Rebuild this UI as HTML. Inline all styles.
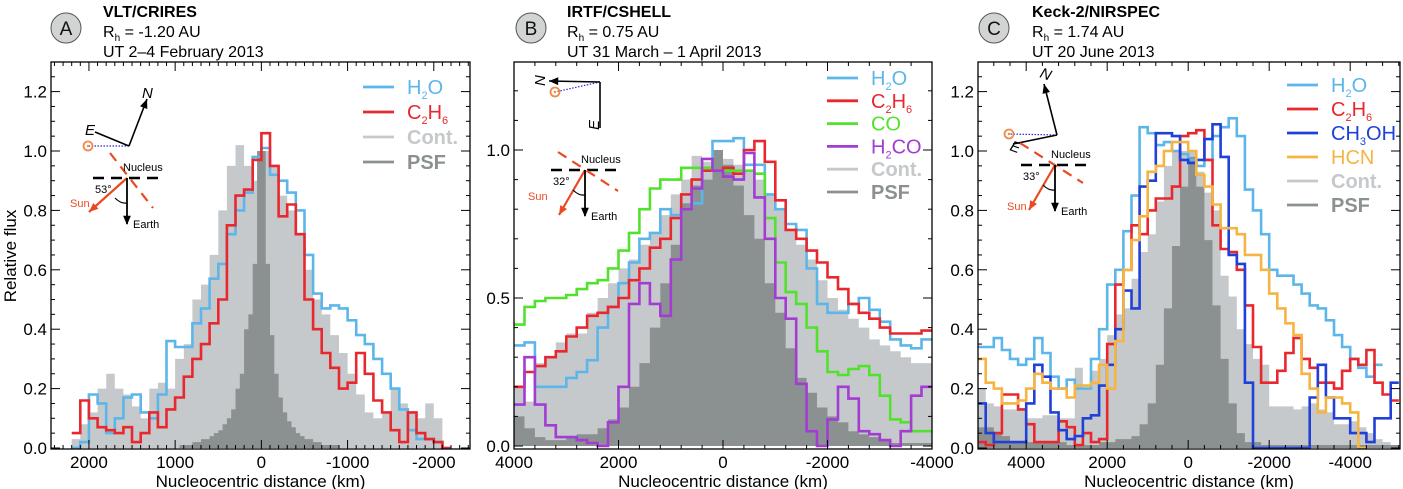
<!DOCTYPE html>
<html><head><meta charset="utf-8"><style>
html,body{margin:0;padding:0;background:#fff;}
svg{display:block;font-family:"Liberation Sans",Arial,sans-serif;}
</style></head><body>
<svg id="fig" width="1403" height="489" viewBox="0 0 1403 489" xmlns="http://www.w3.org/2000/svg"></svg>
<script>
// ---------- Panel A data (km bins, descending) ----------
const aStart = 2200, aBin = 100;
const aH2O  = [0,0.02,0.18,0.15,0.05,0.1,0.17,0.18,0.12,0.1,0.18,0.36,0.34,0.34,0.42,0.47,0.57,0.62,0.72,0.8,0.86,0.98,1.01,0.92,0.9,0.86,0.8,0.65,0.52,0.47,0.48,0.47,0.43,0.38,0.35,0.3,0.25,0.2,0.13,0.06,0.03,0.03,0.02,0];
const aC2H6 = [0.05,0.16,0.1,0.07,0.06,0.05,0.07,0.02,0.05,0.12,0.07,0.13,0.17,0.24,0.3,0.35,0.42,0.5,0.75,0.85,0.87,0.97,1.06,0.95,0.78,0.82,0.72,0.5,0.4,0.32,0.27,0.2,0.22,0.32,0.25,0.16,0.12,0.06,0.02,0.12,0.05,0.03,0.02,0];
const aCont = [0.03,0.08,0.12,0.2,0.25,0.2,0.18,0.14,0.1,0.2,0.22,0.2,0.3,0.35,0.5,0.55,0.65,0.8,0.95,1.02,0.95,0.9,1.0,0.95,0.85,0.8,0.72,0.6,0.5,0.45,0.38,0.32,0.25,0.18,0.12,0.1,0.12,0.2,0.15,0.12,0.1,0.15,0.1,0];
const aPsfStart = 1000, aPsfBin = 50;
const aPSF  = [0,0.01,0.01,0.01,0.02,0.02,0.03,0.03,0.04,0.05,0.06,0.08,0.1,0.13,0.2,0.25,0.4,0.45,0.62,1.0,1.0,0.62,0.38,0.25,0.17,0.12,0.09,0.07,0.05,0.04,0.03,0.03,0.02,0.02,0.01,0.01,0.01,0.01,0,0];
const aXTicks = [2000,1000,0,-1000,-2000];
const aYTicks = [0,0.2,0.4,0.6,0.8,1.0,1.2];

// ---------- Panel B data ----------
const bStart = 4000, bBin = 200;
const bH2O  = [0.34,0.35,0.2,0.2,0.2,0.23,0.25,0.29,0.4,0.47,0.55,0.62,0.7,0.72,0.8,0.78,0.8,0.82,0.93,1.03,1.03,1.04,0.95,0.95,0.85,0.8,0.75,0.73,0.6,0.48,0.45,0.45,0.48,0.5,0.46,0.42,0.36,0.34,0.33,0.36];
const bC2H6 = [0.2,0.25,0.27,0.3,0.32,0.37,0.4,0.44,0.45,0.47,0.5,0.56,0.6,0.67,0.7,0.77,0.85,0.9,0.93,0.93,0.94,0.92,1.0,1.03,0.96,0.83,0.73,0.7,0.66,0.62,0.57,0.53,0.48,0.45,0.43,0.4,0.38,0.38,0.38,0.39];
const bCO   = [0.41,0.47,0.49,0.5,0.5,0.51,0.53,0.55,0.56,0.6,0.66,0.72,0.8,0.87,0.9,0.9,0.94,0.94,0.94,0.93,0.93,0.93,0.93,0.92,0.77,0.62,0.52,0.48,0.4,0.32,0.25,0.24,0.26,0.27,0.24,0.17,0.09,0.08,0.05,0.05];
const bH2CO = [0.14,0.3,0.14,0.07,0.03,0.03,0.02,0.01,0,0.08,0.2,0.48,0.55,0.48,0.44,0.63,0.8,0.87,0.97,0.93,0.91,0.9,0.99,0.84,0.7,0.5,0.43,0.21,0.05,0,0.09,0.2,0.16,0.05,0.04,0.02,0,0.05,0.17,0.2];
const bCont = [0.2,0.15,0.28,0.3,0.35,0.38,0.38,0.45,0.5,0.55,0.6,0.63,0.68,0.72,0.78,0.85,0.9,0.98,0.96,1.0,0.97,0.95,0.93,0.9,0.85,0.8,0.73,0.68,0.63,0.56,0.5,0.46,0.43,0.4,0.36,0.34,0.32,0.3,0.28,0.28];
const bPSF  = [0.1,0.06,0.03,0.02,0.02,0.03,0.04,0.04,0.06,0.09,0.13,0.2,0.28,0.4,0.55,0.68,0.82,0.88,0.9,1.0,0.95,0.88,0.78,0.7,0.55,0.45,0.33,0.23,0.18,0.13,0.1,0.08,0.05,0.04,0.03,0.02,0.01,0.01,0.01,0.01];
const bXTicks = [4000,2000,0,-2000,-4000];
const bYTicks = [0,0.5,1.0];

// ---------- Panel C data ----------
const cStart = 5200, cBin = 200;
const cH2O  = [0.34,0.34,0.37,0.33,0.3,0.28,0.3,0.37,0.32,0.24,0.2,0.23,0.2,0.2,0.3,0.4,0.55,0.6,0.73,0.85,1.08,1.06,1.02,1.03,1.0,0.99,0.97,0.95,0.97,1.05,1.08,1.11,1.05,0.87,0.8,0.72,0.6,0.58,0.58,0.55,0.52,0.48,0.47,0.43,0.38,0.34,0.3,0.27,0.24,0.28];
const cC2H6 = [0.02,0.01,0.05,0.18,0.18,0.13,0.08,0.02,0.02,0.02,0.09,0.07,0.01,0.05,0.02,0.03,0.35,0.55,0.6,0.75,0.72,0.8,0.84,0.84,0.88,1.05,1.06,1.07,0.97,0.75,0.67,0.66,0.6,0.48,0.34,0.22,0.22,0.26,0.32,0.37,0.3,0.27,0.22,0.22,0.2,0.26,0.3,0.28,0.33,0.22,0.18,0.16];
const cCH3OH= [0.15,0.05,0.02,0.02,0.02,0.02,0.15,0.28,0.24,0.12,0.06,0.03,0.04,0.1,0.11,0.21,0.28,0.4,0.53,0.47,0.88,0.9,1.06,1.06,1.05,0.97,0.96,0.97,1.04,1.09,0.98,0.65,0.62,0.22,0,0,0,0,0,0,0,0.17,0.28,0.17,0.1,0.1,0.05,0.05,0.02,0.1,0.1,0.22];
const cHCN  = [0.3,0.22,0.2,0.15,0.15,0.16,0.2,0.25,0.22,0.2,0.2,0.17,0.21,0.21,0.22,0.28,0.2,0.36,0.6,0.7,0.78,0.93,0.95,1.0,1.03,1.03,1.0,0.92,0.88,0.82,0.74,0.74,0.72,0.65,0.65,0.6,0.52,0.47,0.42,0.38,0.25,0.2,0.12,0.17,0.17,0.15,0.12,0];
const cCont = [0.2,0.15,0.14,0.13,0.13,0.13,0.1,0.1,0.11,0.11,0.1,0.1,0.27,0.2,0.26,0.3,0.38,0.45,0.47,0.57,0.66,0.72,0.83,0.95,1.0,1.0,1.0,0.93,0.86,0.8,0.58,0.51,0.4,0.35,0.3,0.28,0.14,0.14,0.14,0.13,0.14,0.15,0.13,0.12,0.08,0.08,0.09,0.07,0.05,0.03,0.02,0];
const cPSF  = [0.07,0.07,0.05,0.04,0.02,0.02,0.02,0.02,0.02,0.02,0.02,0.01,0.01,0.01,0.01,0.02,0.02,0.03,0.03,0.04,0.08,0.15,0.28,0.47,0.68,0.88,0.98,0.88,0.7,0.48,0.3,0.15,0.05,0.02,0.02,0.01,0.01,0.01,0.01,0.01,0.01,0.01,0.01,0.01,0.01,0.01,0.01,0.01,0.01,0.01,0.01,0.01];
const cXTicks = [4000,2000,0,-2000,-4000];
const cYTicks = [0,0.2,0.4,0.6,0.8,1.0,1.2];

const COL = {H2O:'#5cb6ea', C2H6:'#e8282e', CO:'#52e22e', H2CO:'#a23cd2', CH3OH:'#2040d8', HCN:'#f6b443', Cont:'#c5c9cb', PSF:'#8b9191'};
const NS = 'http://www.w3.org/2000/svg';
const svg = document.getElementById('fig');
function mk(tag, attrs, parent){ const e=document.createElementNS(NS,tag); for(const k in attrs) e.setAttribute(k,attrs[k]); (parent||svg).appendChild(e); return e; }

function panel(p){
  const g = mk('g',{});
  
  
  const X = km => p.x0 + (p.kmL - km)/(p.kmL - p.kmR)*(p.x1 - p.x0);
  const Y = v => p.yZero - v*p.yUnit;
  const clip = mk('clipPath',{id:'clip-'+p.id}, g);
  mk('rect',{x:p.x0,y:p.y0,width:p.x1-p.x0,height:p.yZero-p.y0+2},clip);
  const plot = mk('g',{'clip-path':'url(#clip-'+p.id+')'}, g);
  function stepPts(start,bin,vals){ let d=''; vals.forEach((v,i)=>{ const a=X(start-i*bin), b=X(start-(i+1)*bin); d += (i===0?'M':'L')+a.toFixed(1)+','+Y(v).toFixed(1)+'L'+b.toFixed(1)+','+Y(v).toFixed(1); }); return d; }
  p.fills.forEach(s=>{
    const d = 'M'+X(s.start).toFixed(1)+','+Y(0)+stepPts(s.start,s.bin,s.vals).replace(/^M/,'L')+'L'+X(s.start-s.vals.length*s.bin).toFixed(1)+','+Y(0)+'Z';
    const e = mk('path',{d:d,fill:COL[s.key],stroke:'none'},plot);
    
    
  });
  p.lines.forEach(s=>{
    const e = mk('path',{d:stepPts(s.start,s.bin,s.vals),fill:'none',stroke:COL[s.key],'stroke-width':2.6,'stroke-linejoin':'miter'},plot);
    
    
  });
  const fr = mk('rect',{x:p.x0,y:p.y0,width:p.x1-p.x0,height:p.y1-p.y0,fill:'none',stroke:'#000','stroke-width':1.3},g);
  
  
  for(let k=Math.ceil(p.kmR/p.xMinor)*p.xMinor; k<=p.kmL; k+=p.xMinor){
    const major = Math.abs(k % p.xMajor) < 1e-6; const L = major?9:4; const x=X(k);
    mk('line',{x1:x,x2:x,y1:p.y1,y2:p.y1-L,stroke:'#000','stroke-width':1},g);
    mk('line',{x1:x,x2:x,y1:p.y0,y2:p.y0+L,stroke:'#000','stroke-width':1},g);
  }
  p.xTicks.forEach(k=>{
    const t = mk('text',{x:X(k),y:468,'font-size':17,'text-anchor':'middle',fill:'#000'},g);
    t.textContent = (k<0?'-':'')+Math.abs(k);
    
    
  });
  for(let v=0; Y(v)>=p.y0; v=Math.round((v+p.yMinor)*1000)/1000){
    const major = Math.abs(v/p.yMajor - Math.round(v/p.yMajor))<1e-6; const L=major?9:4; const y=Y(v);
    mk('line',{x1:p.x0,x2:p.x0+L,y1:y,y2:y,stroke:'#000','stroke-width':1},g);
    mk('line',{x1:p.x1,x2:p.x1-L,y1:y,y2:y,stroke:'#000','stroke-width':1},g);
  }
  p.yTicks.forEach(v=>{
    const t = mk('text',{x:p.x0-4,y:Y(v)+6,'font-size':17,'text-anchor':'end',fill:'#000'},g);
    t.textContent = v.toFixed(1);
    
    
  });
  const xl = mk('text',{x:(p.x0+p.x1)/2,y:487,'font-size':17,'text-anchor':'middle',fill:'#000'},g);
  xl.textContent = 'Nucleocentric distance (km)';
  
  
  const c = mk('circle',{cx:p.cx,cy:28,r:15,fill:'#d2d4d4',stroke:'#555','stroke-width':1},g);
  
  
  const cl = mk('text',{x:p.cx,y:35,'font-size':19,'text-anchor':'middle',fill:'#111'},g); cl.textContent=p.letter;
  const h1 = mk('text',{x:p.tx,y:17,'font-size':16,'font-weight':'bold',fill:'#000'},g); h1.textContent=p.title;
   
  const h2 = mk('text',{x:p.tx,y:37,'font-size':16,fill:'#000'},g);
  h2.innerHTML = 'R<tspan font-size="10" dy="4">h</tspan><tspan dy="-4"> = '+p.rh+'</tspan>';
   
  const h3 = mk('text',{x:p.tx,y:57,'font-size':16,fill:'#000'},g); h3.textContent=p.date;
   
  p.legend.forEach((l,i)=>{
    const y = p.lgY + i*p.lgDy;
    const lg = mk('g',{},g);
    
    
    mk('line',{x1:p.lgX,x2:p.lgX+31,y1:y,y2:y,stroke:COL[l.key],'stroke-width':2.8},lg);
    const t = mk('text',{x:p.lgX+44,y:y+7,'font-size':20,fill:COL[l.key],'font-weight':(l.key==='Cont'||l.key==='PSF')?'bold':'normal'},lg);
    t.innerHTML = l.html;
  });
  return g;
}

const LG = {
  H2O:{key:'H2O',html:'H<tspan font-size="11" dy="5">2</tspan><tspan dy="-5">O</tspan>'},
  C2H6:{key:'C2H6',html:'C<tspan font-size="11" dy="5">2</tspan><tspan dy="-5">H</tspan><tspan font-size="11" dy="5">6</tspan>'},
  CO:{key:'CO',html:'CO'},
  H2CO:{key:'H2CO',html:'H<tspan font-size="11" dy="5">2</tspan><tspan dy="-5">CO</tspan>'},
  CH3OH:{key:'CH3OH',html:'CH<tspan font-size="11" dy="5">3</tspan><tspan dy="-5">OH</tspan>'},
  HCN:{key:'HCN',html:'HCN'},
  Cont:{key:'Cont',html:'Cont.'},
  PSF:{key:'PSF',html:'PSF'}
};

panel({id:'panel-a',letter:'A',cx:66,tx:103,title:'VLT/CRIRES',rh:'-1.20 AU',date:'UT 2–4 February 2013',
  x0:51,x1:470,y0:62,y1:449,kmL:2440,kmR:-2420,yZero:448,yUnit:297,
  xMajor:1000,xMinor:100,yMajor:0.2,yMinor:0.05,xTicks:aXTicks,yTicks:aYTicks,
  fills:[{key:'Cont',start:aStart,bin:aBin,vals:aCont},{key:'PSF',start:aPsfStart,bin:aPsfBin,vals:aPSF}],
  lines:[{key:'H2O',start:aStart,bin:aBin,vals:aH2O},{key:'C2H6',start:aStart,bin:aBin,vals:aC2H6}],
  lgX:363,lgY:87,lgDy:25,legend:[LG.H2O,LG.C2H6,LG.Cont,LG.PSF]});
panel({id:'panel-b',letter:'B',cx:531,tx:567,title:'IRTF/CSHELL',rh:'0.75 AU',date:'UT 31 March – 1 April 2013',
  x0:514,x1:932,y0:62,y1:449,kmL:4000,kmR:-4000,yZero:446,yUnit:296,
  xMajor:2000,xMinor:400,yMajor:0.5,yMinor:0.1,xTicks:bXTicks,yTicks:bYTicks,
  fills:[{key:'Cont',start:bStart,bin:bBin,vals:bCont},{key:'PSF',start:bStart,bin:bBin,vals:bPSF}],
  lines:[{key:'H2O',start:bStart,bin:bBin,vals:bH2O},{key:'C2H6',start:bStart,bin:bBin,vals:bC2H6},{key:'CO',start:bStart,bin:bBin,vals:bCO},{key:'H2CO',start:bStart,bin:bBin,vals:bH2CO}],
  lgX:827,lgY:78,lgDy:22.8,legend:[LG.H2O,LG.C2H6,LG.CO,LG.H2CO,LG.Cont,LG.PSF]});
panel({id:'panel-c',letter:'C',cx:994,tx:1032,title:'Keck-2/NIRSPEC',rh:'1.74 AU',date:'UT 20 June 2013',
  x0:978,x1:1400,y0:62,y1:449,kmL:5190,kmR:-5230,yZero:448,yUnit:297,
  xMajor:2000,xMinor:400,yMajor:0.2,yMinor:0.05,xTicks:cXTicks,yTicks:cYTicks,
  fills:[{key:'Cont',start:cStart,bin:cBin,vals:cCont},{key:'PSF',start:cStart,bin:cBin,vals:cPSF}],
  lines:[{key:'H2O',start:cStart,bin:cBin,vals:cH2O},{key:'C2H6',start:cStart,bin:cBin,vals:cC2H6},{key:'CH3OH',start:cStart,bin:cBin,vals:cCH3OH},{key:'HCN',start:cStart,bin:cBin,vals:cHCN}],
  lgX:1287,lgY:85,lgDy:24,legend:[LG.H2O,LG.C2H6,LG.CH3OH,LG.HCN,LG.Cont,LG.PSF]});

const yt = mk('text',{x:0,y:0,'font-size':17,'text-anchor':'middle',transform:'translate(16,256) rotate(-90)',fill:'#000'});
yt.textContent='Relative flux';



function arrowHead(g,x1,y1,x2,y2,color,size){
  const a=Math.atan2(y2-y1,x2-x1), s=size||9;
  const p1=[x2-s*Math.cos(a-0.4),y2-s*Math.sin(a-0.4)], p2=[x2-s*Math.cos(a+0.4),y2-s*Math.sin(a+0.4)];
  mk('polygon',{points:`${x2},${y2} ${p1[0]},${p1[1]} ${p2[0]},${p2[1]}`,fill:color},g);
}
function inset(o){
  const g = mk('g',{});
  
  
  mk('line',{x1:o.cx,y1:o.cy,x2:o.sunC[0],y2:o.sunC[1],stroke:'#2a2ad0','stroke-width':1.2,'stroke-dasharray':'1.5,1.5'},g);
  mk('circle',{cx:o.sunC[0],cy:o.sunC[1],r:4.5,fill:'none',stroke:'#f08a4a','stroke-width':1.8},g);
  mk('circle',{cx:o.sunC[0],cy:o.sunC[1],r:1.2,fill:'#f08a4a'},g);
  mk('line',{x1:o.cx,y1:o.cy,x2:o.N[0],y2:o.N[1],stroke:'#000','stroke-width':1.6},g);
  arrowHead(g,o.cx,o.cy,o.N[0],o.N[1],'#000',10);
  mk('line',{x1:o.cx,y1:o.cy,x2:o.E[0],y2:o.E[1],stroke:'#000','stroke-width':1.6},g);
  const tn=mk('text',{x:o.Nl[0],y:o.Nl[1],'font-size':15,fill:'#000','font-style':'italic',transform:`rotate(${o.rot||0} ${o.Nl[0]} ${o.Nl[1]})`},g); tn.textContent='N';
  const te=mk('text',{x:o.El[0],y:o.El[1],'font-size':15,fill:'#000','font-style':'italic',transform:`rotate(${o.rot||0} ${o.El[0]} ${o.El[1]})`},g); te.textContent='E';
  mk('line',{x1:o.nx-34,y1:o.ny,x2:o.nx+34,y2:o.ny,stroke:'#000','stroke-width':2.4,'stroke-dasharray':'11,7'},g);
  mk('line',{x1:o.pa[0],y1:o.pa[1],x2:o.pa[2],y2:o.pa[3],stroke:'#ea4a22','stroke-width':2.2,'stroke-dasharray':'10,7'},g);
  const tnu=mk('text',{x:o.nx-4,y:o.ny-7,'font-size':11,fill:'#000'},g); tnu.textContent='Nucleus';
  mk('line',{x1:o.nx,y1:o.ny,x2:o.sun[0],y2:o.sun[1],stroke:'#ea4a22','stroke-width':2.2},g);
  arrowHead(g,o.nx,o.ny,o.sun[0],o.sun[1],'#ea4a22',10);
  mk('line',{x1:o.nx,y1:o.ny,x2:o.nx,y2:o.ny+46,stroke:'#000','stroke-width':1.8},g);
  arrowHead(g,o.nx,o.ny,o.nx,o.ny+47,'#000',10);
  mk('path',{d:`M${o.nx-12},${o.ny+20} Q${o.nx-6},${o.ny+26} ${o.nx},${o.ny+25}`,fill:'none',stroke:'#000','stroke-width':1.2},g);
  const ta=mk('text',{x:o.nx-32,y:o.ny+15,'font-size':11,fill:'#000'},g); ta.textContent=o.ang;
  const ts=mk('text',{x:o.sunL[0],y:o.sunL[1],'font-size':11,fill:'#ea4a22'},g); ts.textContent='Sun';
  const tea=mk('text',{x:o.nx+6,y:o.ny+50,'font-size':11,fill:'#000'},g); tea.textContent='Earth';
}
inset({name:'panel-a-geometry-inset',cx:129,cy:146,sunC:[88,146],N:[147,99],E:[95,132],Nl:[142,98],El:[85,135],
  nx:127,ny:178,pa:[110,153,153,208],sun:[89,212],sunL:[70,207],ang:'53°'});
inset({name:'panel-b-geometry-inset',cx:600,cy:82,sunC:[555,92],N:[549,81],E:[600,128],Nl:[545,86],El:[599,130],rot:-90,
  nx:585,ny:170,pa:[558,152,618,191],sun:[559,215],sunL:[528,200],ang:'32°'});
inset({name:'panel-c-geometry-inset',cx:1057,cy:135,sunC:[1009,134],N:[1044,84],E:[1013,144],Nl:[1039,77],El:[1009,150],rot:20,
  nx:1055,ny:165,pa:[1020,143,1083,183],sun:[1029,210],sunL:[1007,210],ang:'33°'});
</script>
</body></html>
